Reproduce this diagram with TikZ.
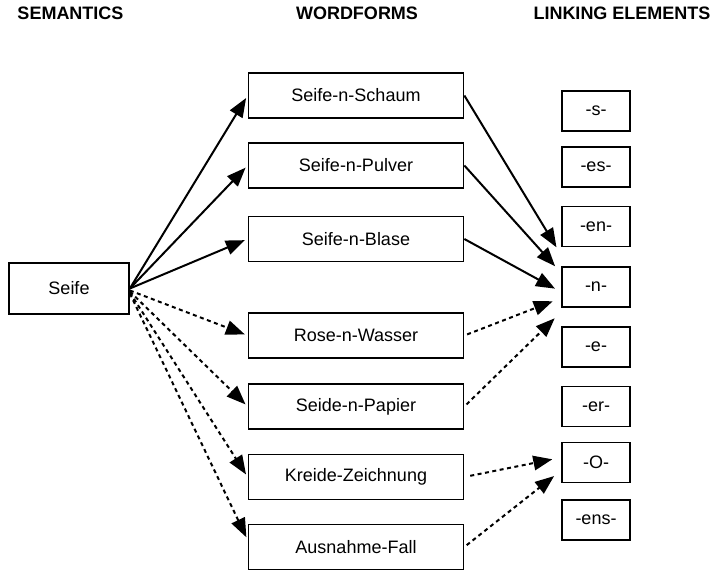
\documentclass[tikz,border=0pt]{standalone}
\usepackage{fontspec}
\setmainfont{Liberation Sans}
\usetikzlibrary{arrows.meta}

\begin{document}
\begin{tikzpicture}[x=1pt,y=1pt,>={Triangle[length=19pt,width=14.5pt]},
    box/.style={draw,line width=1.7pt,inner sep=0pt,font=\fontsize{18}{20}\selectfont},
    wordbox/.style={box,minimum width=215pt,minimum height=45pt},
    linkbox/.style={box,minimum width=68pt,minimum height=40pt},
    head/.style={anchor=base,font=\fontsize{18}{20}\selectfont\bfseries},
    solidarrow/.style={->,line width=2pt,shorten >=3pt},
    dotarrow/.style={->,line width=2pt,dash pattern=on 4pt off 3.5pt,shorten >=3pt}]
      \useasboundingbox (0,0) rectangle (718,571);
      \node [head] (semhead) at (70.5,551) {SEMANTICS};
      \node [head] (wordhead) at (357,551) {WORDFORMS};
      \node [head] (linkhead) at (622,551) {LINKING ELEMENTS};

      \node [box,minimum width=120pt,minimum height=51pt] (seife) at (69,282.5) {Seife};

      \node [wordbox] (schaum) at (356,475.5) {Seife-n-Schaum};
      \node [wordbox] (pulver) at (356,405.5) {Seife-n-Pulver};
      \node [wordbox] (blase) at (356,332) {Seife-n-Blase};
      \node [wordbox] (wasser) at (356,235.5) {Rose-n-Wasser};
      \node [wordbox] (papier) at (356,164.5) {Seide-n-Papier};
      \node [wordbox] (zeichnung) at (356,94) {Kreide-Zeichnung};
      \node [wordbox] (fall) at (356,24) {Ausnahme-Fall};

      \node [linkbox] (s) at (596,460) {-s-};
      \node [linkbox] (es) at (596,404) {-es-};
      \node [linkbox] (en) at (596,344.5) {-en-};
      \node [linkbox] (n) at (596,284) {-n-};
      \node [linkbox] (e) at (596,224) {-e-};
      \node [linkbox] (er) at (596,164.5) {-er-};
      \node [linkbox] (O) at (596,108.5) {-O-};
      \node [linkbox] (ens) at (596,51) {-ens-};

      \draw [solidarrow] (seife.east) -- (schaum.west);
      \draw [solidarrow] (seife.east) -- (pulver.west);
      \draw [solidarrow] (seife.east) -- (blase.west);
      \draw [dotarrow] ([yshift=-2pt]seife.east) -- (wasser.west);
      \draw [dotarrow] ([yshift=-3pt]seife.east) -- (papier.west);
      \draw [dotarrow] ([yshift=-4pt]seife.east) -- (zeichnung.west);
      \draw [dotarrow] ([yshift=-5pt]seife.east) -- ([yshift=7pt]fall.west);

      \draw [solidarrow,shorten >=9pt] (schaum.east) -- ([yshift=32pt]n.west);
      \draw [solidarrow,shorten >=9pt] (pulver.east) -- ([yshift=14pt]n.west);
      \draw [solidarrow,shorten >=7pt] (blase.east) -- ([yshift=-5pt]n.west);
      \draw [dotarrow,shorten >=9pt,shorten <=3pt] (wasser.east) -- ([yshift=-11pt]n.west);
      \draw [dotarrow,shorten >=9pt,shorten <=3pt] (papier.east) -- ([yshift=-25pt]n.west);
      \draw [dotarrow,shorten >=9pt,shorten <=6pt] (zeichnung.east) -- ([yshift=5pt]O.west);
      \draw [dotarrow,shorten >=9pt,shorten <=3pt] (fall.east) -- ([yshift=-8pt]O.west);
    \end{tikzpicture}
\end{document}
